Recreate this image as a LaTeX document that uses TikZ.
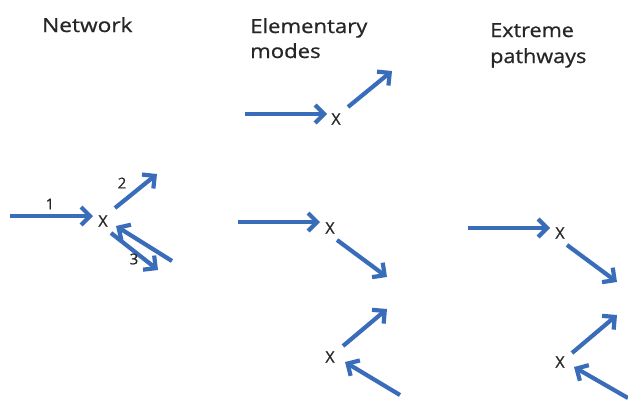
\documentclass[tikz,border=0pt]{standalone}
\usepackage{fontspec}
\setmainfont{Open Sans}
\newfontfamily\titlefont[FakeBold=0.7]{Open Sans}
\usetikzlibrary{arrows.meta}
\definecolor{flow}{HTML}{3A6DB9}
\tikzset{
  flowarrow/.style={draw=flow, line width=4.2pt, -{Straight Barb[length=9pt,width=18pt,line width=4.2pt]}},
  title/.style={anchor=base west, inner sep=0pt, text=black!85, font=\titlefont\fontsize{19.5}{19.5}\selectfont},
  metab/.style={inner sep=0pt, text=black!85, font=\titlefont\fontsize{16}{16}\selectfont},
  num/.style={inner sep=0pt, text=black!85, font=\titlefont\fontsize{15}{15}\selectfont}
}
\begin{document}
\begin{tikzpicture}[x=1pt,y=-1pt]
\useasboundingbox (0,0) rectangle (628,400);
% titles
\node[title] (tnet) at (42,32) {\scalebox{1.163}[1]{Network}};
\node[title] (tem1) at (250,33) {\scalebox{1.135}[1]{Elementary}};
\node[title] (tem2) at (250,58) {\scalebox{1.135}[1]{modes}};
\node[title] (tep1) at (490,37) {\scalebox{1.108}[1]{Extreme}};
\node[title] (tep2) at (490,63) {\scalebox{1.108}[1]{pathways}};
% network
\node[metab] (xn) at (103,221) {X};
\coordinate (n1s) at (10,216); \coordinate (n1e) at (93,216);
\coordinate (n2s) at (115,208); \coordinate (n2e) at (157,174);
\coordinate (n3s) at (111,233); \coordinate (n3e) at (158,270);
\coordinate (n4s) at (172,261); \coordinate (n4e) at (116,226);
\draw[flowarrow] (n1s) -- (n1e);
\draw[flowarrow] (n2s) -- (n2e);
\draw[flowarrow] (n3s) -- (n3e);
\draw[flowarrow] (n4s) -- (n4e);
\node[num] (l1) at (50,204) {1};
\node[num] (l2) at (122,183) {2};
\node[num] (l3) at (134,259) {3};
% elementary mode 1
\node[metab] (xe1) at (336,119) {X};
\coordinate (e1s) at (245,114); \coordinate (e1e) at (327,114);
\coordinate (e2s) at (348,107); \coordinate (e2e) at (392,71);
\draw[flowarrow] (e1s) -- (e1e);
\draw[flowarrow] (e2s) -- (e2e);
% elementary mode 2
\node[metab] (xe2) at (330,228) {X};
\coordinate (e3s) at (238,222); \coordinate (e3e) at (320,222);
\coordinate (e4s) at (337,240); \coordinate (e4e) at (387,277);
\draw[flowarrow] (e3s) -- (e3e);
\draw[flowarrow] (e4s) -- (e4e);
% elementary mode 3
\node[metab] (xe3) at (330,357) {X};
\coordinate (e5s) at (343,346); \coordinate (e5e) at (387,309);
\coordinate (e6s) at (400,395); \coordinate (e6e) at (345,362);
\draw[flowarrow] (e5s) -- (e5e);
\draw[flowarrow] (e6s) -- (e6e);
% extreme pathway 1
\node[metab] (xp1) at (560,233) {X};
\coordinate (p1s) at (468,228); \coordinate (p1e) at (550,228);
\coordinate (p2s) at (567,245); \coordinate (p2e) at (617,282);
\draw[flowarrow] (p1s) -- (p1e);
\draw[flowarrow] (p2s) -- (p2e);
% extreme pathway 2
\node[metab] (xp2) at (560,362) {X};
\coordinate (p3s) at (572,353); \coordinate (p3e) at (617,315);
\coordinate (p4s) at (628,398); \coordinate (p4e) at (574,367);
\draw[flowarrow] (p3s) -- (p3e);
\draw[flowarrow] (p4s) -- (p4e);
\end{tikzpicture}
\end{document}
